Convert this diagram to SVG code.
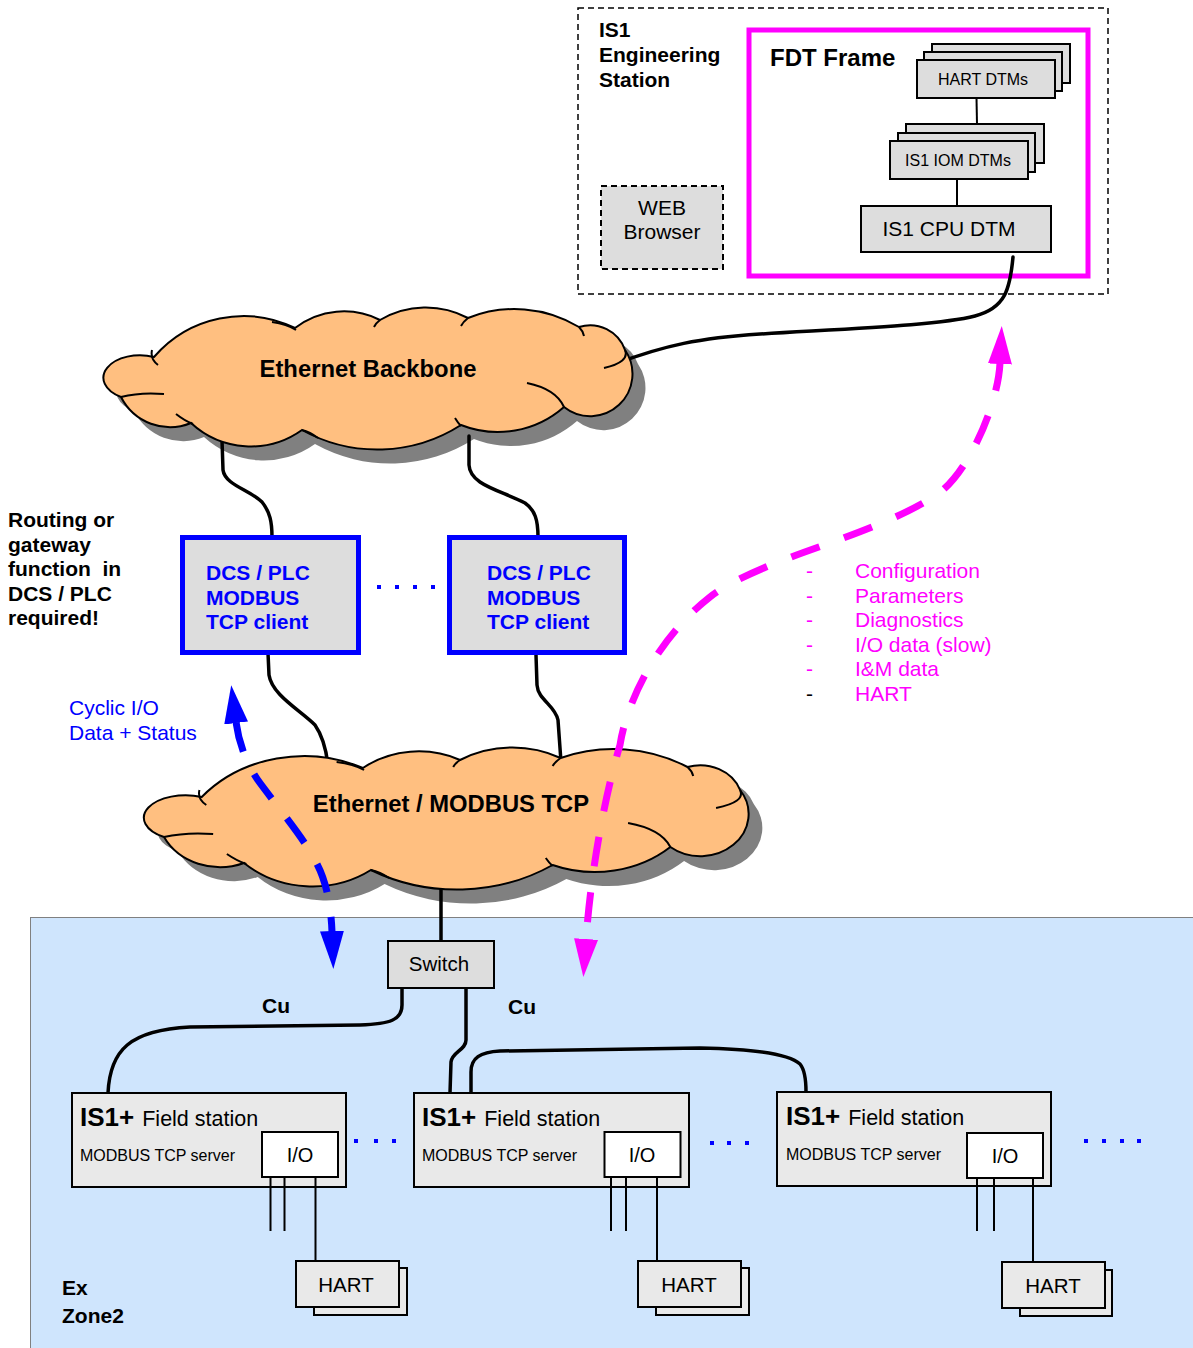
<svg xmlns="http://www.w3.org/2000/svg" width="1193" height="1348" viewBox="0 0 1193 1348">
<style>
text{font-family:"Liberation Sans",Arial,sans-serif;fill:#000}
.b{font-weight:bold}
.cloud{fill:#FFBF80;stroke:#000;stroke-width:2}
.curl{fill:none;stroke:#000;stroke-width:2}
.shadow{fill:#808080;stroke:none}
.wire{fill:none;stroke:#000;stroke-width:3.5;stroke-linecap:round;stroke-linejoin:round}
.thin{fill:none;stroke:#000;stroke-width:2}
.box{fill:#DDDDDD;stroke:#000;stroke-width:2}
.fs{fill:#E9E9E9;stroke:#000;stroke-width:2}
.io{fill:#FFFFFF;stroke:#000;stroke-width:2}
.dcs{fill:#DDDDDD;stroke:#0000FF;stroke-width:5}
.blue{fill:#0000FF}
.mag{fill:#FF00FF}
.dot{fill:#0000FF}
</style>
<defs>
<path id="cloudOutline" vector-effect="non-scaling-stroke" d="M154,357 A118,118 0 0 1 295,328 A80,80 0 0 1 380,320 A90,90 0 0 1 468,318 A125,125 0 0 1 579,327 A37,37 0 0 1 625,350 A42.2,42.2 0 0 1 564,407 A100,100 0 0 1 461,425 A155,155 0 0 1 302,430 A88,88 0 0 1 191,423 A55,55 0 0 1 121,397 A36.5,22.5 0 0 1 154,357 Z"/>
<path id="cloudCurls" vector-effect="non-scaling-stroke" d="M152,350 Q150,359 158,365 M121,397 Q140,392 164,394 M176,414 Q185,421 193,424 M302,430 Q310,432 318,438 M455,418 Q458,423 461,426 M527,383 Q556,389 564,407 M625,350 Q630,362 604,368 M579,327 Q583,331 584,336 M468,318 Q463,322 461,326 M380,320 Q376,323 374,327 M272,322 Q287,324 296,330"/>
<marker id="arrPink" markerUnits="userSpaceOnUse" viewBox="0 0 38 24" markerWidth="38" markerHeight="24" refX="1" refY="12" orient="auto-start-reverse"><path d="M0,0 L38,12 L0,24 Z" fill="#FF00FF"/></marker>
<marker id="arrBlue" markerUnits="userSpaceOnUse" viewBox="0 0 38 24" markerWidth="38" markerHeight="24" refX="1" refY="12" orient="auto-start-reverse"><path d="M0,0 L38,12 L0,24 Z" fill="#0000FF"/></marker>
</defs>
<rect x="0" y="0" width="1193" height="1348" fill="#FFFFFF"/>

<g id="ex-zone">
<rect x="30.5" y="917.5" width="1170" height="440" fill="#CFE5FD" stroke="#808080" stroke-width="1"/>
<text class="b" x="62" y="1295" font-size="21">Ex</text>
<text class="b" x="62" y="1323" font-size="21">Zone2</text>
</g>

<g id="engineering-station">
<rect x="578" y="8" width="530" height="286" fill="none" stroke="#000" stroke-width="1.5" stroke-dasharray="6 4"/>
<text class="b" x="599" y="37" font-size="21">IS1</text>
<text class="b" x="599" y="62" font-size="21">Engineering</text>
<text class="b" x="599" y="87" font-size="21">Station</text>
</g>
<g id="web-browser">
<rect x="601" y="186" width="122" height="83" fill="#DDDDDD" stroke="#000" stroke-width="2" stroke-dasharray="6 4"/>
<text x="662" y="215" font-size="21" text-anchor="middle">WEB</text>
<text x="662" y="239" font-size="21" text-anchor="middle">Browser</text>
</g>
<g id="fdt-frame">
<rect x="749" y="30" width="339" height="246" fill="#FFFFFF" stroke="#FF00FF" stroke-width="5"/>
<text class="b" x="770" y="66" font-size="24">FDT Frame</text>
</g>
<g id="hart-dtms">
<rect class="box" x="932" y="44" width="138" height="39"/>
<rect class="box" x="924" y="52" width="138" height="39"/>
<rect class="box" x="917" y="60" width="138" height="38"/>
<text x="983" y="85" font-size="16" text-anchor="middle">HART DTMs</text>
</g>
<g id="iom-dtms">
<rect class="box" x="906" y="124" width="138" height="39"/>
<rect class="box" x="898" y="133" width="137" height="39"/>
<rect class="box" x="890" y="141" width="138" height="38"/>
<text x="958" y="166" font-size="16" text-anchor="middle">IS1 IOM DTMs</text>
</g>
<g id="cpu-dtm">
<rect class="box" x="861" y="206" width="190" height="46"/>
<text x="949" y="236" font-size="21" text-anchor="middle">IS1 CPU DTM</text>
</g>

<g id="cloud-shadows">
<use href="#cloudOutline" class="shadow" transform="translate(13,14)"/>
<g transform="matrix(1.143 0 0 1 25.7 440)"><use href="#cloudOutline" class="shadow" transform="translate(12,14)"/></g>
</g>

<g id="connectors">
<path class="thin" d="M976.5,98 L977,124"/>
<path class="thin" d="M957,179 L957,206"/>
<path class="wire" d="M1013,257 C1010,290 1005,308 975,316 C940,325 860,328 760,334 C700,338 665,345 615,364"/>
<path class="wire" d="M222,440 L223,470 C225,485 250,490 262,502 C270,512 272,522 272,537"/>
<path class="wire" d="M469,436 L469,465 C470,485 500,490 525,503 C535,510 538,520 538,537"/>
<path class="wire" d="M268,653 L269,675 C272,695 300,710 315,725 C322,735 326,748 328,765"/>
<path class="wire" d="M536,655 L537,685 C538,700 555,705 558,720 L561,762"/>
<path class="wire" d="M441,880 L441,941"/>
<path class="wire" d="M402,988 L402,1005 C402,1020 390,1024 360,1025 L190,1027 C130,1030 110,1050 108,1093"/>
<path class="wire" d="M466,988 L466,1040 C466,1050 452,1052 451,1062 L450,1093"/>
<path class="wire" d="M471,1093 L471,1072 C471,1058 480,1052 500,1051 L700,1048 C760,1049 790,1055 800,1064 C805,1070 806,1080 806,1092"/>
</g>

<g id="cloud-backbone">
<use href="#cloudOutline" class="cloud"/>
<use href="#cloudCurls" class="curl"/>
<text class="b" x="368" y="377" font-size="23.8" text-anchor="middle">Ethernet Backbone</text>
</g>
<g id="cloud-modbus">
<g transform="matrix(1.143 0 0 1 25.7 440)">
<use href="#cloudOutline" class="cloud"/>
<use href="#cloudCurls" class="curl"/>
</g>
<text class="b" x="451" y="812" font-size="23.8" text-anchor="middle">Ethernet / MODBUS TCP</text>
</g>

<g id="routing-note">
<text class="b" x="8" y="527" font-size="21">Routing or</text>
<text class="b" x="8" y="551.5" font-size="21">gateway</text>
<text class="b" x="8" y="576" font-size="21" xml:space="preserve">function  in</text>
<text class="b" x="8" y="600.5" font-size="21">DCS / PLC</text>
<text class="b" x="8" y="625" font-size="21">required!</text>
</g>

<g id="dcs1">
<rect class="dcs" x="182.5" y="537.5" width="176" height="115"/>
<text class="b blue" x="206" y="580" font-size="21">DCS / PLC</text>
<text class="b blue" x="206" y="604.5" font-size="21">MODBUS</text>
<text class="b blue" x="206" y="629" font-size="21">TCP client</text>
</g>
<g id="dcs2">
<rect class="dcs" x="449.5" y="537.5" width="175" height="115"/>
<text class="b blue" x="487" y="580" font-size="21">DCS / PLC</text>
<text class="b blue" x="487" y="604.5" font-size="21">MODBUS</text>
<text class="b blue" x="487" y="629" font-size="21">TCP client</text>
</g>

<g id="dots">
<rect class="dot" x="377" y="585" width="4" height="4"/>
<rect class="dot" x="395" y="585" width="4" height="4"/>
<rect class="dot" x="413" y="585" width="4" height="4"/>
<rect class="dot" x="431" y="585" width="4" height="4"/>
<rect class="dot" x="354" y="1139" width="4" height="4"/>
<rect class="dot" x="374" y="1139" width="4" height="4"/>
<rect class="dot" x="392" y="1139" width="4" height="4"/>
<rect class="dot" x="710" y="1141" width="4" height="4"/>
<rect class="dot" x="727" y="1141" width="4" height="4"/>
<rect class="dot" x="745" y="1141" width="4" height="4"/>
<rect class="dot" x="1084" y="1139" width="4" height="4"/>
<rect class="dot" x="1102" y="1139" width="4" height="4"/>
<rect class="dot" x="1120" y="1139" width="4" height="4"/>
<rect class="dot" x="1137" y="1139" width="4" height="4"/>
</g>

<g id="cyclic-label">
<text class="blue" x="69" y="715" font-size="21">Cyclic I/O</text>
<text class="blue" x="69" y="740" font-size="21">Data + Status</text>
</g>

<g id="legend">
<text class="mag" x="806" y="578" font-size="21">-</text>
<text class="mag" x="806" y="602.5" font-size="21">-</text>
<text class="mag" x="806" y="627" font-size="21">-</text>
<text class="mag" x="806" y="651.5" font-size="21">-</text>
<text class="mag" x="806" y="676" font-size="21">-</text>
<text x="806" y="700.5" font-size="21">-</text>
<text class="mag" x="855" y="578" font-size="21">Configuration</text>
<text class="mag" x="855" y="602.5" font-size="21">Parameters</text>
<text class="mag" x="855" y="627" font-size="21">Diagnostics</text>
<text class="mag" x="855" y="651.5" font-size="21">I/O data (slow)</text>
<text class="mag" x="855" y="676" font-size="21">I&amp;M data</text>
<text class="mag" x="855" y="700.5" font-size="21">HART</text>
</g>

<g id="switch">
<rect class="box" x="388" y="941" width="106" height="47"/>
<text x="439" y="971" font-size="20.5" text-anchor="middle">Switch</text>
</g>
<g id="cu-labels">
<text class="b" x="262" y="1013" font-size="21">Cu</text>
<text class="b" x="508" y="1014" font-size="21">Cu</text>
</g>

<g id="fs1">
<rect class="fs" x="72" y="1093" width="274" height="94"/>
<text x="80" y="1126"><tspan class="b" font-size="26">IS1+</tspan><tspan font-size="21.5" dx="8">Field station</tspan></text>
<text x="80" y="1161" font-size="16">MODBUS TCP server</text>
<rect class="io" x="262" y="1132" width="76" height="45"/>
<text x="300" y="1162" font-size="20" text-anchor="middle">I/O</text>
<path class="thin" d="M270.5,1177 V1231 M284.5,1177 V1231 M315.5,1177 V1261"/>
</g>
<g id="hart1">
<rect class="fs" x="314" y="1268" width="93" height="47"/>
<rect class="fs" x="296" y="1261" width="103" height="46"/>
<text x="346" y="1292" font-size="20.5" text-anchor="middle">HART</text>
</g>

<g id="fs2">
<rect class="fs" x="414" y="1093" width="275" height="94"/>
<text x="422" y="1126"><tspan class="b" font-size="26">IS1+</tspan><tspan font-size="21.5" dx="8">Field station</tspan></text>
<text x="422" y="1161" font-size="16">MODBUS TCP server</text>
<rect class="io" x="604.5" y="1132" width="76" height="45"/>
<text x="642" y="1162" font-size="20" text-anchor="middle">I/O</text>
<path class="thin" d="M611,1177 V1231 M626,1177 V1231 M657,1177 V1261"/>
</g>
<g id="hart2">
<rect class="fs" x="656" y="1268" width="93" height="47"/>
<rect class="fs" x="638" y="1261" width="103" height="46"/>
<text x="689" y="1292" font-size="20.5" text-anchor="middle">HART</text>
</g>

<g id="fs3">
<rect class="fs" x="777" y="1092" width="274" height="94"/>
<text x="786" y="1125"><tspan class="b" font-size="26">IS1+</tspan><tspan font-size="21.5" dx="8">Field station</tspan></text>
<text x="786" y="1160" font-size="16">MODBUS TCP server</text>
<rect class="io" x="967" y="1133" width="76" height="45"/>
<text x="1005" y="1163" font-size="20" text-anchor="middle">I/O</text>
<path class="thin" d="M977,1178 V1231 M994,1178 V1231 M1033,1178 V1262"/>
</g>
<g id="hart3">
<rect class="fs" x="1020" y="1270" width="92" height="46"/>
<rect class="fs" x="1002" y="1262" width="103" height="46"/>
<text x="1053" y="1293" font-size="20.5" text-anchor="middle">HART</text>
</g>

<g id="flows">
<path d="M586,940 C591,870 605,795 620,745 C626,705 655,640 710,597 C740,573.5 805,552 830,543 C868,529 905,515 935,496 C968,475 998,405 1000,363" fill="none" stroke="#FF00FF" stroke-width="7" stroke-dasharray="30 26" stroke-dashoffset="38" marker-start="url(#arrPink)" marker-end="url(#arrPink)"/>
<path d="M332,932 C331,905 326,880 316,862 C305,840 280,810 260,783 C248,767 239,745 236,722" fill="none" stroke="#0000FF" stroke-width="7" stroke-dasharray="30 25" stroke-dashoffset="15" marker-start="url(#arrBlue)" marker-end="url(#arrBlue)"/>
</g>
</svg>
